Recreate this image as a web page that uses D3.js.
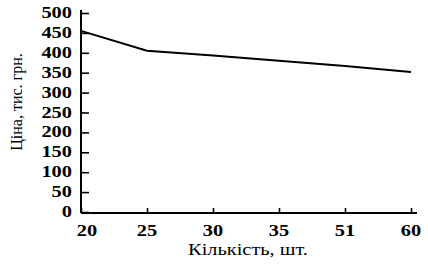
<!DOCTYPE html>
<html>
<head>
<meta charset="utf-8">
<script src="https://cdn.jsdelivr.net/npm/d3@7"></script>
<style>
  body { margin: 0; background: #fff; }
</style>
</head>
<body>
<div id="app"></div>
<script>
const quantities = ['20', '25', '30', '35', '51', '60'];
const prices = [455, 405, 393, 380, 367, 352];
const yTicks = [0, 50, 100, 150, 200, 250, 300, 350, 400, 450, 500];

const width = 428, height = 265;
const plotLeft = 81, plotRight = 411, plotTop = 13, plotBottom = 212;
const serif = "'Liberation Serif', 'Times New Roman', serif";
const stretch = 1.2;

const svg = d3.select('#app').append('svg')
  .attr('width', width)
  .attr('height', height);

const x = d3.scalePoint().domain(quantities).range([plotLeft, plotRight]);
const y = d3.scaleLinear().domain([0, 500]).range([plotBottom, plotTop]);

// y axis, ticks pointing inward
const yAxis = svg.append('g')
  .attr('transform', `translate(${plotLeft},0)`)
  .call(d3.axisRight(y).tickValues(yTicks).tickSize(8).tickFormat(''));
yAxis.select('.domain').attr('d', `M0,${plotTop - 3}V${plotBottom + 1}`).attr('stroke-width', 2);
yAxis.selectAll('.tick line').attr('stroke-width', 1.6);

svg.append('g').selectAll('text')
  .data(yTicks)
  .enter().append('text')
  .attr('transform', d => `translate(${plotLeft - 9},${y(d) + 5}) scale(${stretch},1)`)
  .attr('text-anchor', 'end')
  .attr('font-family', serif)
  .attr('font-size', 17)
  .attr('font-weight', 'bold')
  .text(d => d);

// x axis, ticks pointing up
const xAxis = svg.append('g')
  .attr('transform', `translate(0,${plotBottom + 1})`)
  .call(d3.axisTop(x).tickSize(5).tickFormat(''));
xAxis.select('.domain').attr('d', `M${plotLeft},0H${plotRight + 6}`).attr('stroke-width', 2);
xAxis.selectAll('.tick line').attr('stroke-width', 1.6);

svg.append('g').selectAll('text')
  .data(quantities)
  .enter().append('text')
  .attr('transform', (d, i) => `translate(${x(d) + (i === 0 ? 6 : 0)},${plotBottom + 24}) scale(${stretch},1)`)
  .attr('text-anchor', 'middle')
  .attr('font-family', serif)
  .attr('font-size', 17)
  .attr('font-weight', 'bold')
  .text(d => d);

svg.append('text')
  .attr('transform', `translate(248,${plotBottom + 43}) scale(${stretch},1)`)
  .attr('text-anchor', 'middle')
  .attr('font-family', serif)
  .attr('font-size', 17)
  .text('Кількість, шт.');

svg.append('text')
  .attr('transform', `translate(22,102) rotate(-90)`)
  .attr('text-anchor', 'middle')
  .attr('font-family', serif)
  .attr('font-size', 16)
  .text('Ціна, тис. грн.');

const line = d3.line()
  .x((d, i) => x(quantities[i]))
  .y(d => y(d));

svg.append('path')
  .datum(prices)
  .attr('fill', 'none')
  .attr('stroke', '#000')
  .attr('stroke-width', 2)
  .attr('d', line);
</script>
</body>
</html>
